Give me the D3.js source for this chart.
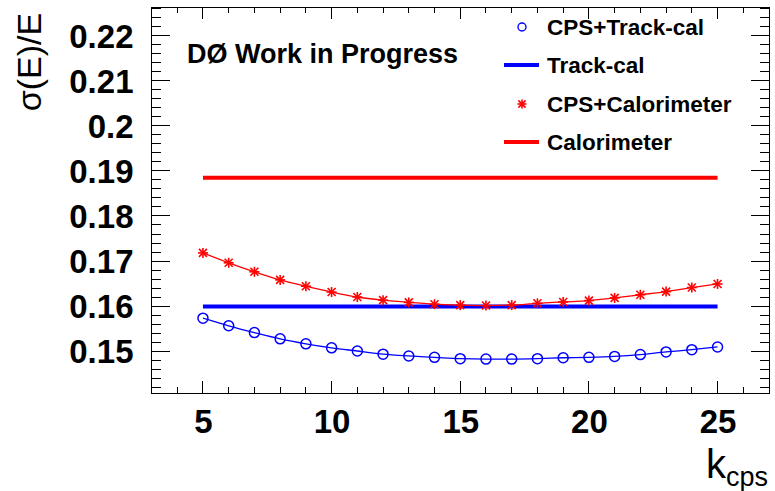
<!DOCTYPE html>
<html>
<head>
<meta charset="utf-8">
<script src="https://cdn.jsdelivr.net/npm/d3@7"></script>
<style>
  html, body { margin: 0; padding: 0; background: #fff; }
  svg { display: block; }
  text { font-family: "Liberation Sans", Arial, Helvetica, sans-serif; }
</style>
</head>
<body>
<svg id="chart" width="775" height="491"></svg>
<script>
// k_cps values scanned
const kValues = [5, 6, 7, 8, 9, 10, 11, 12, 13, 14, 15, 16, 17, 18, 19, 20, 21, 22, 23, 24, 25];
// resolution with CPS + track-based calibration
const cpsTrack = [0.1573, 0.1556, 0.1541, 0.1527, 0.1516, 0.1507, 0.1500, 0.1493, 0.1489, 0.1486, 0.1483,
                  0.1482, 0.1482, 0.1483, 0.1485, 0.1486, 0.1488, 0.1492, 0.1498, 0.1503, 0.1509];
// resolution with CPS + calorimeter
const cpsCalo = [0.1718, 0.1696, 0.1676, 0.1658, 0.1644, 0.1631, 0.1620, 0.1613, 0.1608, 0.1604, 0.1602,
                 0.1601, 0.1602, 0.1606, 0.1609, 0.1612, 0.1618, 0.1625, 0.1632, 0.1641, 0.1649];
// reference resolutions without CPS
const trackCalRef = 0.1599;
const caloRef = 0.1885;

const xTicks = [5, 10, 15, 20, 25];
const yTicks = [0.15, 0.16, 0.17, 0.18, 0.19, 0.2, 0.21, 0.22];
const legendLabels = ["CPS+Track-cal", "Track-cal", "CPS+Calorimeter", "Calorimeter"];

const svg = d3.select("#chart");
const frame = { left: 151.5, right: 769, top: 7, bottom: 393 };

const x = d3.scaleLinear().domain([3, 27]).range([frame.left, frame.right]);
const y = d3.scaleLinear().domain([0.14067, 0.22644]).range([frame.bottom, frame.top]);

const BLUE = "#0000ff", RED = "#ff0000";

// ---- axes (ticks inside on all four sides) ----
const xMinor = d3.range(3, 28, 1);
const yMinor = d3.range(0.142, 0.2265, 0.002);

function tickLines(g, vals, scale, orient, len) {
  g.selectAll(null).data(vals).join("line")
    .attr("stroke", "#000").attr("stroke-width", 1)
    .each(function (d) {
      const s = d3.select(this);
      if (orient === "bottom") s.attr("x1", scale(d)).attr("x2", scale(d)).attr("y1", frame.bottom).attr("y2", frame.bottom - len);
      if (orient === "top") s.attr("x1", scale(d)).attr("x2", scale(d)).attr("y1", frame.top).attr("y2", frame.top + len);
      if (orient === "left") s.attr("y1", scale(d)).attr("y2", scale(d)).attr("x1", frame.left).attr("x2", frame.left + len);
      if (orient === "right") s.attr("y1", scale(d)).attr("y2", scale(d)).attr("x1", frame.right).attr("x2", frame.right - len);
    });
}
const ticksG = svg.append("g").attr("shape-rendering", "crispEdges");
tickLines(ticksG, xMinor, x, "bottom", 6);
tickLines(ticksG, xMinor, x, "top", 6);
tickLines(ticksG, xTicks, x, "bottom", 12);
tickLines(ticksG, xTicks, x, "top", 12);
tickLines(ticksG, yMinor, y, "left", 9);
tickLines(ticksG, yMinor, y, "right", 9);
tickLines(ticksG, yTicks, y, "left", 18);
tickLines(ticksG, yTicks, y, "right", 18);

svg.append("rect")
  .attr("x", frame.left).attr("y", frame.top)
  .attr("width", frame.right - frame.left).attr("height", frame.bottom - frame.top)
  .attr("fill", "none").attr("stroke", "#000").attr("stroke-width", 1)
  .attr("shape-rendering", "crispEdges");

// tick labels via d3 axis generators, then restyled
const xAxis = svg.append("g").attr("transform", `translate(0,${frame.bottom})`)
  .call(d3.axisBottom(x).tickValues(xTicks).tickSize(0).tickPadding(40).tickFormat(d3.format("d")));
xAxis.select(".domain").remove();
xAxis.selectAll("text").attr("font-size", 33).attr("font-weight", "bold").attr("fill", "#000")
  .attr("font-family", "Liberation Sans, Arial, sans-serif").attr("dy", 0);

const yAxis = svg.append("g").attr("transform", `translate(${frame.left},0)`)
  .call(d3.axisLeft(y).tickValues(yTicks).tickSize(0).tickPadding(18).tickFormat(d => d3.format("")(+d.toFixed(2))));
yAxis.select(".domain").remove();
yAxis.selectAll("text").attr("font-size", 33).attr("font-weight", "bold").attr("fill", "#000")
  .attr("font-family", "Liberation Sans, Arial, sans-serif").attr("dy", "0.36em");

// axis titles
svg.append("text")
  .attr("transform", "translate(41,62) rotate(-90)")
  .attr("text-anchor", "middle")
  .attr("font-size", 34).text("σ(E)/E");

const kt = svg.append("text").attr("x", 768).attr("y", 478).attr("text-anchor", "end").attr("font-size", 40);
kt.append("tspan").text("k");
kt.append("tspan").attr("font-size", 27).attr("dy", 8).text("cps");

// ---- reference lines ----
svg.append("line")
  .attr("x1", x(5)).attr("x2", x(25)).attr("y1", y(caloRef)).attr("y2", y(caloRef))
  .attr("stroke", RED).attr("stroke-width", 4);
svg.append("line")
  .attr("x1", x(5)).attr("x2", x(25)).attr("y1", y(trackCalRef)).attr("y2", y(trackCalRef))
  .attr("stroke", BLUE).attr("stroke-width", 4);

// ---- CPS curves with markers ----
const line = d3.line().x(d => x(d[0])).y(d => y(d[1])).curve(d3.curveMonotoneX);
const trackPts = kValues.map((k, i) => [k, cpsTrack[i]]);
const caloPts = kValues.map((k, i) => [k, cpsCalo[i]]);

svg.append("path").datum(caloPts).attr("d", line)
  .attr("fill", "none").attr("stroke", RED).attr("stroke-width", 1.3);
svg.append("path").datum(trackPts).attr("d", line)
  .attr("fill", "none").attr("stroke", BLUE).attr("stroke-width", 1.3);

function star(g, cx, cy, r, color) {
  const s = g.append("g").attr("transform", `translate(${cx},${cy})`)
    .attr("stroke", color).attr("stroke-width", 1.6);
  s.append("line").attr("x1", -r).attr("x2", r).attr("y1", 0).attr("y2", 0);
  s.append("line").attr("x1", 0).attr("x2", 0).attr("y1", -r).attr("y2", r);
  const a = r * 0.8;
  s.append("line").attr("x1", -a).attr("x2", a).attr("y1", -a).attr("y2", a);
  s.append("line").attr("x1", -a).attr("x2", a).attr("y1", a).attr("y2", -a);
}

const starsG = svg.append("g");
caloPts.forEach(p => star(starsG, x(p[0]), y(p[1]), 5, RED));

svg.append("g").selectAll("circle").data(trackPts).join("circle")
  .attr("cx", d => x(d[0])).attr("cy", d => y(d[1])).attr("r", 5)
  .attr("fill", "none").attr("stroke", BLUE).attr("stroke-width", 1.5);

// ---- label ----
svg.append("text").attr("x", 187).attr("y", 63)
  .attr("font-size", 27).attr("font-weight", "bold").text("DØ Work in Progress");

// ---- legend ----
const legY = [27, 65, 104, 142];
const leg = svg.append("g");
leg.append("circle").attr("cx", 522).attr("cy", legY[0]).attr("r", 4)
  .attr("fill", "none").attr("stroke", BLUE).attr("stroke-width", 1.4);
leg.append("line").attr("x1", 504).attr("x2", 539).attr("y1", legY[1]).attr("y2", legY[1])
  .attr("stroke", BLUE).attr("stroke-width", 4);
star(leg, 522, legY[2], 4.5, RED);
leg.append("line").attr("x1", 504).attr("x2", 539).attr("y1", legY[3]).attr("y2", legY[3])
  .attr("stroke", RED).attr("stroke-width", 4);
leg.selectAll("text.lab").data(legendLabels).join("text").attr("class", "lab")
  .attr("x", 547).attr("y", (d, i) => legY[i] + 7.5)
  .attr("font-size", 22.5).attr("font-weight", "bold").text(d => d);
</script>
</body>
</html>
